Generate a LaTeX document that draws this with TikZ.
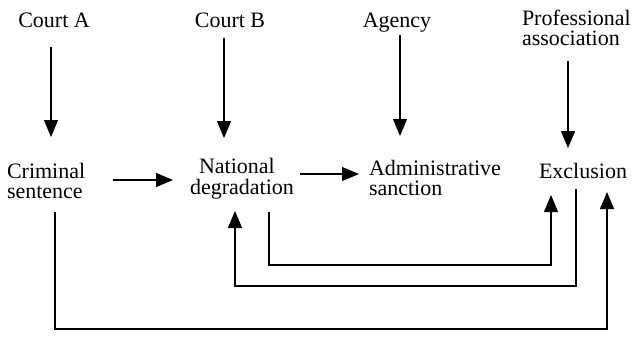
\documentclass[tikz,border=0pt]{standalone}
\usepackage{fontspec}
\setmainfont{Liberation Serif}
\usetikzlibrary{arrows.meta,calc}
\newcommand\twoL[2]{\begin{tabular}[t]{@{}l@{}}#1\\#2\end{tabular}}
\begin{document}
\begin{tikzpicture}[x=1bp,y=-1bp,
  lbl/.style={inner sep=0pt,outer sep=0pt,font=\fontsize{22bp}{20.5bp}\selectfont},
  arr/.style={line width=1.2bp,-{Triangle[length=17bp,width=14bp]}},
  ln/.style={line width=1.2bp}]
\useasboundingbox (0,0) rectangle (636,342);
\node[lbl,anchor=base] (ca) at (54,27) {Court A};
\node[lbl,anchor=base] (cb) at (230,27) {Court B};
\node[lbl,anchor=base] (ag) at (397,27) {Agency};
\node[lbl,anchor=base west] (pa) at (522,25) {\twoL{Professional}{association}};
\node[lbl,anchor=base west] (cs) at (7,178) {\twoL{Criminal}{sentence}};
\node[lbl,anchor=base west] (nd) at (190,173) {\twoL{\hspace*{9bp}National}{degradation}};
\node[lbl,anchor=base west] (as) at (369,175) {\twoL{Administrative}{sanction}};
\node[lbl,anchor=base] (ex) at (583,178) {Exclusion};
% vertical arrows
\draw[arr] ($(ca.base)+(-3,20)$) -- ($(cs.base west)+(44,-41)$);
\draw[arr] ($(cb.base)+(-6,11)$) -- ($(nd.base west)+(34,-35)$);
\draw[arr] ($(ag.base)+(3,8)$) -- ($(as.base west)+(31,-39)$);
\draw[arr] ($(pa.base west)+(46,36)$) -- ($(ex.base)+(-15,-30)$);
% horizontal arrows
\draw[arr] ($(cs.base west)+(106,2)$) -- ($(nd.base west)+(-17,7)$);
\draw[arr] ($(nd.base west)+(110,1)$) -- ($(as.base west)+(-10,-1)$);
% routed connectors
\draw[arr] ($(nd.base west)+(79,39)$) -- ++(0,53) -| ($(ex.base)+(-32,17)$);
\draw[arr] ($(ex.base)+(-7,11)$) -- ++(0,97) -| ($(nd.base west)+(45,38)$);
\draw[arr] ($(cs.base west)+(48,34)$) -- ++(0,117) -| ($(ex.base)+(24,14)$);
\end{tikzpicture}
\end{document}
